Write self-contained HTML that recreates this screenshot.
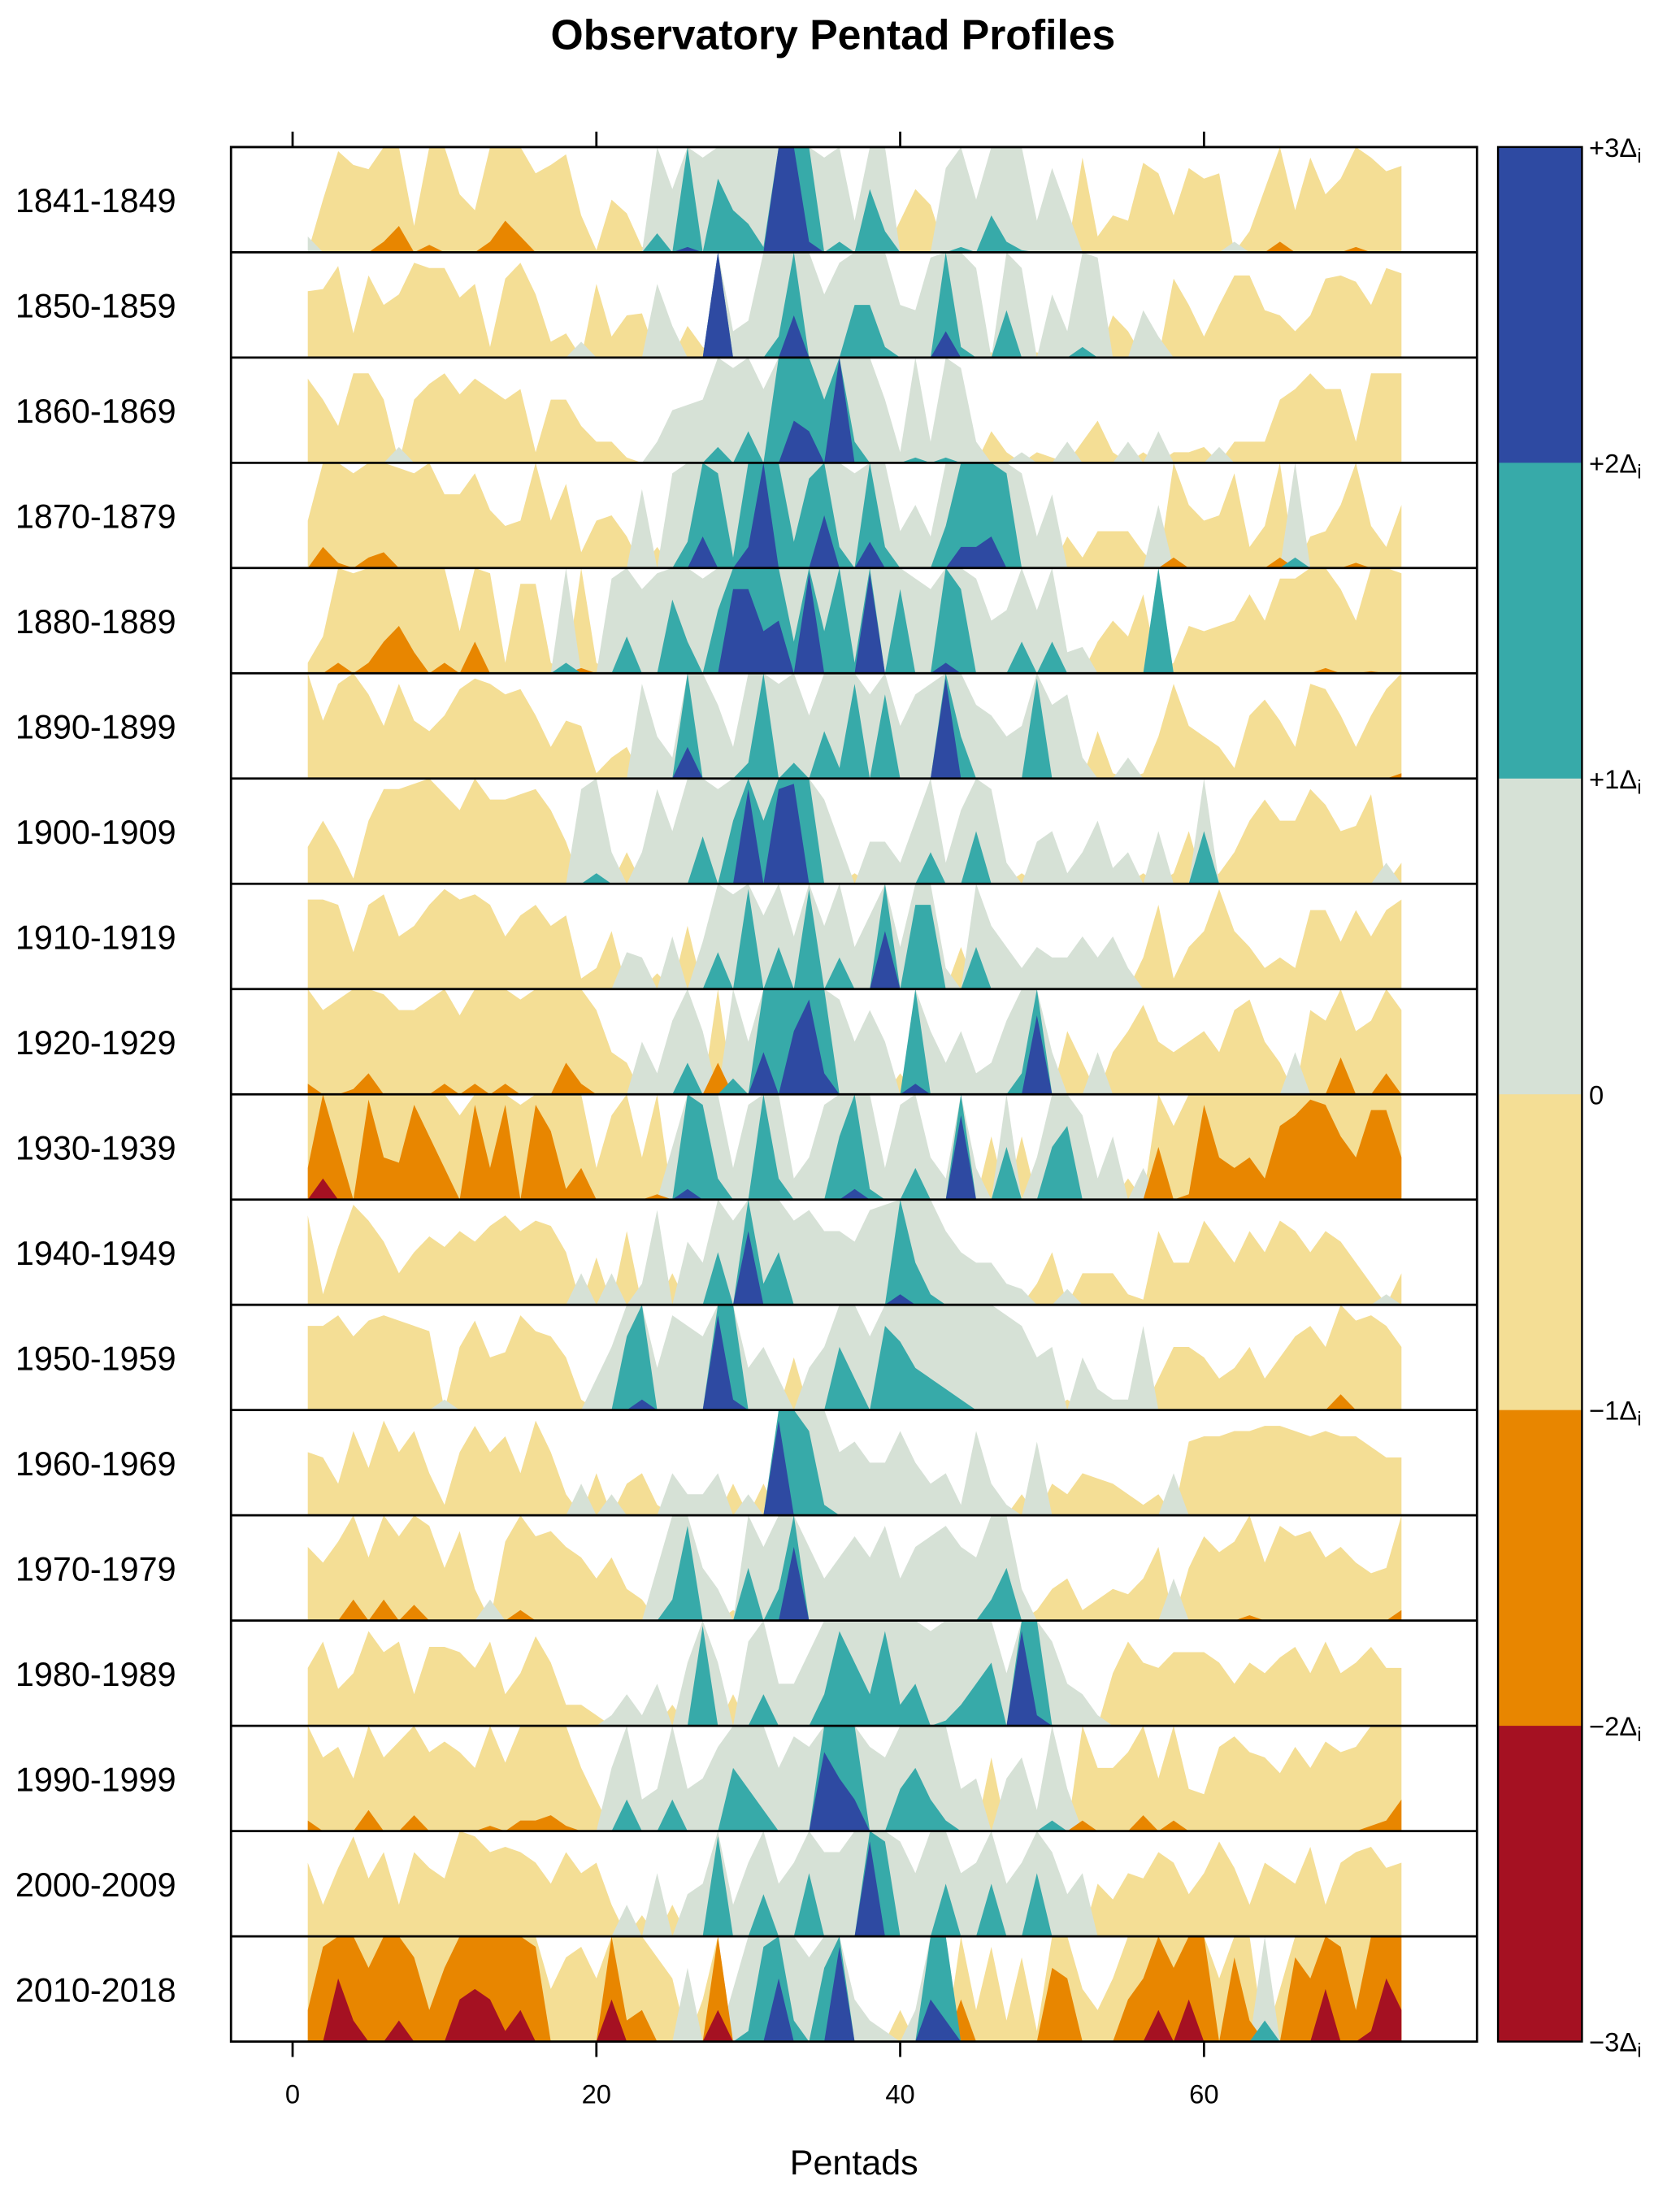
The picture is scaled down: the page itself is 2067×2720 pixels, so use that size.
<!DOCTYPE html>
<html><head><meta charset="utf-8"><style>
html,body{margin:0;padding:0;background:#fff}
svg{display:block}
text{font-family:"Liberation Sans",sans-serif}
</style></head><body>
<svg id="chart" width="2067" height="2720" viewBox="0 0 1200 1579" preserveAspectRatio="none" xmlns="http://www.w3.org/2000/svg">
<text x="595" y="35" text-anchor="middle" font-size="30" font-weight="bold">Observatory Pentad Profiles</text>
<g id="panels"></g>
<g id="axes"></g>
<g id="cbar"></g>
<text x="610" y="1553" text-anchor="middle" font-size="25">Pentads</text>
</svg>
<script>
const decades = ["1841-1849","1850-1859","1860-1869","1870-1879","1880-1889","1890-1899","1900-1909","1910-1919","1920-1929","1930-1939","1940-1949","1950-1959","1960-1969","1970-1979","1980-1989","1990-1999","2000-2009","2010-2018"];
const xTicks = [0,20,40,60];
const cbarLabels = ["+3","+2","+1","0","\u22121","\u22122","\u22123"];
const d1841=[0.15,-0.5,-0.96,-0.83,-0.79,-1.1,-1.25,-0.25,-1.07,-1.0,-0.55,-0.4,-1.1,-1.3,-1.15,-0.75,-0.83,-0.93,-0.35,-0.02,-0.5,-0.37,-0.05,1.18,0.6,2.05,0.9,1.7,1.4,1.27,1.05,3,3,2.1,0.9,1.1,0.3,1.6,1.2,-0.3,-0.6,-0.45,0.8,1.05,0.5,1.35,1.1,1.02,0.3,0.8,0.4,-0.9,-0.15,-0.35,-0.3,-0.85,-0.75,-0.35,-0.8,-0.7,-0.75,0.1,-0.2,-0.6,-1.1,-0.4,-0.9,-0.55,-0.7,-1.05,-0.9,-0.77,-0.82];
const d1850=[-0.63,-0.65,-0.87,-0.23,-0.78,-0.5,-0.6,-0.9,-0.85,-0.85,-0.57,-0.7,-0.1,-0.75,-0.9,-0.6,-0.15,-0.23,0.15,-0.7,-0.2,-0.4,-0.42,0.7,0.3,-0.3,-0.1,3,0.25,0.35,1.0,1.2,2.4,1.0,0.6,0.9,1.5,1.5,1.1,0.5,0.45,0.95,2.25,1.1,0.85,-0.05,1.45,0.85,-0.05,0.6,0.25,1.1,0.95,-0.4,-0.25,0.45,0.2,-0.75,-0.5,-0.2,-0.5,-0.78,-0.78,-0.45,-0.4,-0.25,-0.4,-0.75,-0.78,-0.72,-0.5,-0.85,-0.8];
const d1860=[-0.8,-0.6,-0.35,-0.85,-0.85,-0.6,0.15,-0.6,-0.75,-0.85,-0.65,-0.8,-0.7,-0.6,-0.7,-0.1,-0.6,-0.6,-0.35,-0.2,-0.2,-0.05,0,0.2,0.5,0.55,0.6,1.15,0.9,1.3,0.7,2.0,2.4,2.3,1.6,3,1.2,1.0,0.6,0.1,1.05,0.2,1.05,0.9,0.2,-0.3,-0.1,0.1,-0.1,-0.05,0.2,-0.2,-0.4,-0.1,0.2,-0.1,0.3,-0.1,-0.1,-0.15,0.15,-0.2,-0.2,-0.2,-0.6,-0.7,-0.85,-0.7,-0.7,-0.2,-0.85,-0.85,-0.85];
const d1870=[-0.45,-1.2,-1.05,-0.9,-1.1,-1.15,-0.95,-0.9,-1.0,-0.7,-0.7,-0.9,-0.55,-0.4,-0.45,-1.0,-0.45,-0.8,-0.15,-0.45,-0.5,-0.3,0.75,-0.2,0.9,1.25,2.3,1.9,1.1,2.2,3,2.0,1.25,1.85,2.5,1.2,0.9,2.25,1.2,0.35,0.6,0.3,1.4,2.2,2.2,2.3,1.9,0.9,0.3,0.7,-0.3,-0.1,-0.35,-0.35,-0.35,-0.15,0.6,-1.1,-0.6,-0.45,-0.5,-0.9,-0.2,-0.4,-1.1,1.1,-0.3,-0.35,-0.6,-1.05,-0.4,-0.2,-0.6];
const d1880=[-0.1,-0.35,-1.1,-0.95,-1.1,-1.3,-1.45,-1.2,-1.0,-1.1,-0.4,-1.3,-0.95,-0.1,-0.85,-0.85,-0.1,1.1,-1.05,-0.1,0.9,1.35,0.8,0.95,1.7,1.3,0.9,1.6,2.8,2.8,2.4,2.5,1.3,2.95,1.4,2.0,1.1,2.95,1.0,1.8,0.9,0.8,2.1,1.8,0.9,0.5,0.6,1.3,0.6,1.3,0.2,0.25,-0.3,-0.5,-0.35,-0.75,2.0,-0.1,-0.45,-0.4,-0.45,-0.5,-0.75,-0.5,-0.9,-0.9,-1.0,-1.05,-0.8,-0.5,-1.02,-1.0,-0.95];
const d1890=[-1.0,-0.55,-0.9,-1.0,-0.8,-0.5,-0.9,-0.55,-0.45,-0.6,-0.85,-0.95,-0.9,-0.8,-0.85,-0.6,-0.3,-0.55,-0.5,-0.05,-0.2,-0.3,0.9,0.4,0.2,2.3,1.0,0.7,0.3,1.15,2.0,0.9,1.15,0.6,1.45,1.1,1.9,0.8,1.8,0.5,0.8,0.9,2.95,1.4,0.7,0.6,0.4,0.5,1.95,0.7,0.8,0.2,-0.45,-0.05,0.2,-0.05,-0.4,-0.9,-0.5,-0.4,-0.3,-0.1,-0.6,-0.75,-0.55,-0.3,-0.9,-0.85,-0.6,-0.3,-0.6,-0.85,-1.05];
const d1900=[-0.35,-0.6,-0.35,-0.05,-0.6,-0.9,-0.9,-0.95,-1.0,-0.85,-0.7,-1.0,-0.8,-0.8,-0.85,-0.9,-0.7,-0.4,0.9,1.1,0.3,-0.3,0.3,0.9,0.5,1.0,1.45,0.9,1.6,2.9,1.6,2.9,2.95,2.0,0.8,0.4,-0.1,0.4,0.4,0.2,0.6,1.3,0.2,0.7,1.5,0.9,0.2,-0.1,0.4,0.5,0.1,0.3,0.6,0.15,0.3,-0.1,0.5,-0.1,-0.5,1.5,-0.1,-0.3,-0.6,-0.8,-0.6,-0.6,-0.9,-0.75,-0.5,-0.55,-0.85,0.2,-0.2];
const d1910=[-0.85,-0.85,-0.8,-0.35,-0.8,-0.9,-0.5,-0.6,-0.8,-0.95,-0.85,-0.9,-0.8,-0.5,-0.7,-0.8,-0.6,-0.7,-0.1,-0.2,-0.55,0.35,0.3,-0.15,0.5,-0.6,0.45,1.35,0.9,1.95,0.7,1.4,0.5,1.95,0.6,1.3,0.4,0.7,2.55,0.4,1.8,1.8,0.2,-0.4,1.4,0.6,0.4,0.2,0.4,0.3,0.3,0.5,0.3,0.5,0.2,-0.3,-0.8,-0.1,-0.4,-0.55,-0.95,-0.55,-0.4,-0.2,-0.3,-0.2,-0.75,-0.75,-0.45,-0.75,-0.5,-0.75,-0.85];
const d1920=[-1.1,-0.8,-0.9,-1.05,-1.2,-0.95,-0.8,-0.8,-0.9,-1.1,-0.75,-1.1,-1.0,-1.1,-0.9,-1.0,-1.0,-1.3,-1.1,-0.8,-0.4,-0.3,0.5,0.2,0.7,1.3,0.6,-1.3,1.15,0.5,2.4,2.0,2.6,2.9,2.2,0.9,0.5,0.8,0.5,-0.2,2.1,0.6,0.3,0.6,0.2,0.3,0.7,1.2,2.75,0.4,-0.6,-0.3,0.4,-0.4,-0.6,-0.85,-0.5,-0.4,-0.5,-0.6,-0.4,-0.8,-0.9,-0.5,-0.3,0.4,-0.8,-0.7,-1.35,-0.6,-0.7,-1.2,-0.8];
const d1930=[-1.3,-2.2,-1.5,-1.0,-1.95,-1.4,-1.35,-1.9,-1.6,-1.3,-0.8,-1.9,-1.3,-1.9,-0.9,-1.9,-1.65,-1.1,-1.3,-0.3,-0.8,-1.0,-0.4,-1.05,0.5,2.1,1.9,1.2,0.3,0.9,2.0,1.2,0.2,0.4,0.9,1.6,2.1,1.1,0.3,0.9,1.3,0.4,0.2,2.8,0.3,-0.6,1.5,-0.6,0.4,1.5,1.7,0.8,0.2,0.6,-0.2,0.3,-1.5,-0.7,-1.05,-1.9,-1.4,-1.3,-1.4,-1.2,-1.7,-1.8,-1.95,-1.9,-1.6,-1.4,-1.85,-1.85,-1.4];
const d1940=[-0.85,-0.1,-0.55,-0.95,-0.8,-0.6,-0.3,-0.5,-0.65,-0.55,-0.7,-0.6,-0.75,-0.85,-0.7,-0.8,-0.75,-0.5,0.3,-0.45,0.3,-0.7,0.2,0.9,-0.3,0.6,0.4,1.5,0.8,2.7,1.2,1.5,0.8,0.9,0.7,0.7,0.6,0.9,0.95,2.1,1.4,1.1,0.7,0.5,0.4,0.4,0.2,0.15,-0.2,-0.5,0.15,-0.3,-0.3,-0.3,-0.1,-0.05,-0.7,-0.4,-0.4,-0.8,-0.6,-0.4,-0.7,-0.5,-0.8,-0.7,-0.5,-0.7,-0.6,-0.4,-0.2,0.1,-0.3];
const d1950=[-0.8,-0.8,-0.9,-0.7,-0.85,-0.9,-0.85,-0.8,-0.75,0.1,-0.6,-0.85,-0.5,-0.55,-0.9,-0.75,-0.7,-0.5,-0.1,0.3,0.6,1.7,2.1,0.4,0.9,0.8,0.7,2.9,2.1,0.4,0.6,0.3,-0.5,0.4,0.6,1.6,1.3,0.7,1.8,1.65,1.4,1.3,1.2,1.1,1.0,1.0,0.9,0.8,0.5,0.6,-0.1,0.5,0.2,0.1,0.1,0.8,-0.3,-0.6,-0.6,-0.5,-0.3,-0.4,-0.6,-0.3,-0.5,-0.7,-0.8,-0.6,-1.15,-0.85,-0.9,-0.8,-0.6];
const d1960=[-0.6,-0.55,-0.3,-0.8,-0.45,-0.9,-0.6,-0.8,-0.4,-0.1,-0.6,-0.85,-0.6,-0.75,-0.4,-0.9,-0.6,-0.2,0.3,-0.4,0.2,-0.3,-0.4,-0.1,0.4,0.2,0.2,0.4,-0.3,0.2,-0.3,2.9,2.0,1.8,1.1,0.6,0.7,0.5,0.5,0.8,0.5,0.3,0.4,0.1,0.8,0.3,0.1,-0.2,0.7,-0.3,-0.2,-0.4,-0.35,-0.3,-0.2,-0.1,-0.2,0.4,-0.7,-0.75,-0.75,-0.8,-0.8,-0.85,-0.85,-0.8,-0.75,-0.8,-0.75,-0.75,-0.65,-0.55,-0.55];
const d1970=[-0.7,-0.55,-0.75,-1.2,-0.6,-1.2,-0.8,-1.15,-0.9,-0.5,-0.85,-0.3,0.2,-0.75,-1.1,-0.8,-0.85,-0.7,-0.6,-0.4,-0.6,-0.3,-0.2,0.5,1.2,1.9,0.5,0.3,-0.1,1.5,0.7,1.3,2.7,0.7,0.4,0.6,0.8,0.6,0.9,0.4,0.7,0.8,0.9,0.7,0.6,1.2,1.5,0.3,-0.1,-0.3,-0.4,-0.1,-0.2,-0.3,-0.25,-0.4,-0.7,0.4,-0.5,-0.8,-0.65,-0.75,-1.05,-0.55,-0.9,-0.8,-0.85,-0.6,-0.7,-0.55,-0.45,-0.5,-1.1];
const d1980=[-0.55,-0.8,-0.35,-0.5,-0.9,-0.7,-0.8,-0.3,-0.75,-0.75,-0.7,-0.55,-0.8,-0.3,-0.5,-0.85,-0.6,-0.2,-0.2,-0.1,0.1,0.3,0.1,0.4,-0.2,0.6,1.95,0.6,-0.3,0.8,1.3,0.4,0.4,0.7,1.3,1.9,1.6,1.3,1.9,1.2,1.4,0.9,1.05,1.2,1.4,1.6,0.5,2.9,2.1,0.8,0.4,0.3,0.1,-0.5,-0.8,-0.6,-0.55,-0.7,-0.7,-0.7,-0.6,-0.4,-0.6,-0.5,-0.65,-0.75,-0.5,-0.8,-0.5,-0.6,-0.75,-0.55,-0.55];
const d1990=[-1.1,-0.7,-0.8,-0.5,-1.2,-0.7,-0.85,-1.15,-0.75,-0.85,-0.75,-0.6,-1.05,-0.65,-1.1,-1.1,-1.15,-1.05,-0.6,-0.3,0.6,1.3,0.3,0.4,1.3,0.4,0.5,0.8,1.6,1.4,1.2,0.6,0.9,0.8,2.75,2.5,2.3,0.8,0.7,1.4,1.6,1.3,1.1,0.4,0.5,-0.7,0.5,0.7,0.2,1.1,0.4,-1.1,-0.6,-0.6,-0.75,-1.15,-0.5,-1.1,-0.4,-0.35,-0.8,-0.9,-0.75,-0.7,-0.55,-0.8,-0.6,-0.85,-0.75,-0.8,-1.05,-1.1,-1.3];
const d2000=[-0.7,-0.3,-0.65,-0.95,-0.55,-0.8,-0.3,-0.8,-0.65,-0.55,-1.0,-0.95,-0.8,-0.85,-0.8,-0.7,-0.5,-0.8,-0.6,-0.7,-0.3,0.3,-0.2,0.6,-0.3,0.4,0.5,1.95,0.3,0.7,1.4,0.5,0.7,1.6,0.8,0.8,1.0,2.9,1.9,0.9,0.6,1.0,1.5,0.6,0.7,1.5,0.5,0.7,1.6,0.8,0.4,0.6,-0.5,-0.35,-0.6,-0.55,-0.8,-0.7,-0.4,-0.6,-0.9,-0.65,-0.3,-0.7,-0.6,-0.5,-0.85,-0.3,-0.7,-0.8,-0.85,-0.65,-0.7];
const d2010=[-1.3,-1.9,-2.6,-2.2,-1.7,-2.0,-2.2,-1.8,-1.3,-1.7,-2.4,-2.5,-2.4,-2.1,-2.3,-1.9,-0.5,-0.8,-0.9,-0.6,-2.4,-1.2,-1.3,-0.8,-0.6,0.7,-0.4,-2.3,0.5,1.1,1.9,2.6,1.2,0.8,1.7,2.9,0.4,0.2,0.1,-0.3,0.3,2.4,2.2,-1.4,-0.3,-0.9,-0.2,-0.8,-0.1,-1.7,-1.6,-0.5,-0.3,-0.6,-1.4,-1.6,-2.3,-1.7,-2.4,-2.0,-0.6,-1.8,-1.2,1.2,-0.5,-1.8,-1.6,-2.5,-1.9,-1.3,-2.1,-2.6,-2.3];
const series=[d1841,d1850,d1860,d1870,d1880,d1890,d1900,d1910,d1920,d1930,d1940,d1950,d1960,d1970,d1980,d1990,d2000,d2010];

const NS="http://www.w3.org/2000/svg";
const L=165,R=1055,T=105,B=1458;
const PH=(B-T)/decades.length;
const xs=p=>209+10.85*p;
const posC=["#d6e1d6","#37aaa9","#2e4aa2"], negC=["#f4de95","#e88600","#a51122"];
function mk(tag,attrs,parent){const e=document.createElementNS(NS,tag);for(const k in attrs)e.setAttribute(k,attrs[k]);parent.appendChild(e);return e;}
const panels=document.getElementById('panels');
series.forEach((vals,i)=>{
  const top=T+i*PH, base=top+PH;
  const g=mk('g',{},panels);
  
  
  for(let k=0;k<3;k++){
    [[1,negC[k],'neg'],[-1,posC[k],'pos']].forEach(([sgn,col,nm])=>{
      let d='M'+xs(1)+','+base;
      vals.forEach((v,j)=>{const a=Math.min(Math.max(-sgn*v-k,0),1);d+=' L'+xs(j+1).toFixed(2)+','+(base-a*PH).toFixed(2);});
      d+=' L'+xs(vals.length)+','+base+' Z';
      const p=mk('path',{d:d,fill:col},g);
      
      
    });
  }
  const ln=mk('line',{x1:L,x2:R,y1:top,y2:top,stroke:'#000','stroke-width':1.6},g);
  
  
  const t=mk('text',{x:11,y:top+PH/2+9,'font-size':24},g);
  t.textContent=decades[i];
  
  
});
const axes=document.getElementById('axes');
const fr=mk('rect',{x:L,y:T,width:R-L,height:B-T,fill:'none',stroke:'#000','stroke-width':1.6},axes);


xTicks.forEach(v=>{
  const x=xs(v);
  const a=mk('line',{x1:x,x2:x,y1:T,y2:T-11,stroke:'#000','stroke-width':1.6},axes);
  
  
  const b=mk('line',{x1:x,x2:x,y1:B,y2:B+11,stroke:'#000','stroke-width':1.6},axes);
  
  
  const t=mk('text',{x:x,y:B+44,'font-size':19,'text-anchor':'middle'},axes);
  t.textContent=v;
  
  
});
const cb=document.getElementById('cbar');
const cbCols=[posC[2],posC[1],posC[0],negC[0],negC[1],negC[2]];
const bh=(B-T)/6;
cbCols.forEach((c,i)=>{
  const r=mk('rect',{x:1070,y:T+i*bh,width:60,height:bh+0.5,fill:c},cb);
  
  
});
const cf=mk('rect',{x:1070,y:T,width:60,height:B-T,fill:'none',stroke:'#000','stroke-width':1.4},cb);


cbarLabels.forEach((s,i)=>{
  const y=T+i*bh+7;
  const t=mk('text',{x:1135,y:y,'font-size':19},cb);
  
  
  if(s==="0"){t.textContent="0";}
  else{
    t.textContent=s+"\u0394";
    const sub=mk('tspan',{'font-size':14,dy:4},t);
    sub.textContent="i";
  }
});
</script>
</body></html>
